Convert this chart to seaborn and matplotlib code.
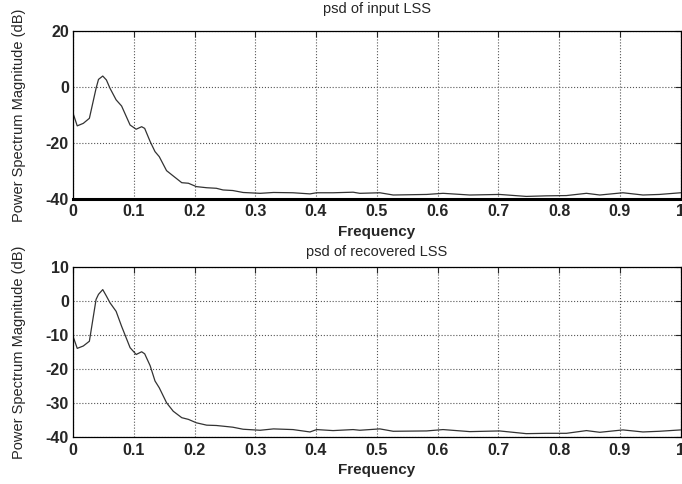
import numpy as np
import pandas as pd
import seaborn as sns
import matplotlib
matplotlib.use("Agg")
import matplotlib.pyplot as plt

# normalised frequency and psd (dB)
freq = [0.0, 0.007, 0.017, 0.027, 0.038, 0.042, 0.049, 0.055, 0.061, 0.071,
        0.080, 0.094, 0.104, 0.113, 0.118, 0.127, 0.135, 0.142, 0.154, 0.165,
        0.179, 0.190, 0.203, 0.220, 0.236, 0.247, 0.263, 0.280, 0.308, 0.330,
        0.362, 0.390, 0.401, 0.428, 0.461, 0.472, 0.505, 0.527, 0.582, 0.609,
        0.653, 0.702, 0.746, 0.779, 0.812, 0.845, 0.867, 0.905, 0.938, 0.965,
        1.0]
psd_input = [-9.3, -13.9, -13.0, -11.2, -0.5, 2.7, 3.9, 2.5, -0.5, -4.6,
             -6.8, -13.6, -15.1, -14.2, -14.8, -19.5, -23.1, -24.9, -29.9, -31.8,
             -34.2, -34.4, -35.6, -36.0, -36.2, -36.8, -37.0, -37.7, -38.0, -37.7,
             -37.8, -38.2, -37.8, -37.8, -37.6, -38.0, -37.8, -38.6, -38.4, -38.0,
             -38.6, -38.4, -39.1, -38.9, -38.8, -38.0, -38.6, -37.8, -38.6, -38.4,
             -37.8]
psd_recovered = [-10.3, -13.9, -13.2, -11.8, 0.5, 2.0, 3.4, 1.5, -0.5, -3.0,
                 -7.4, -13.7, -15.7, -14.9, -15.5, -19.0, -23.5, -25.5, -29.9, -32.4,
                 -34.3, -34.8, -35.8, -36.5, -36.6, -36.8, -37.1, -37.7, -38.0, -37.6,
                 -37.8, -38.5, -37.8, -38.1, -37.8, -38.0, -37.6, -38.3, -38.2, -37.8,
                 -38.4, -38.2, -39.0, -38.9, -38.9, -38.1, -38.6, -37.9, -38.5, -38.3,
                 -37.9]

xticks = [0, 0.1, 0.2, 0.3, 0.4, 0.5, 0.6, 0.7, 0.8, 0.9, 1]
xticklabels = ["0", "0.1", "0.2", "0.3", "0.4", "0.5", "0.6", "0.7", "0.8", "0.9", "1"]

sns.set_style("white")
plt.rcParams["font.family"] = ["Liberation Sans", "DejaVu Sans"]
plt.rcParams["axes.unicode_minus"] = False

df = pd.DataFrame({"freq": freq, "input": psd_input, "recovered": psd_recovered})

fig = plt.figure(figsize=(6.82, 4.84), dpi=100)
ax1 = fig.add_axes([0.107, 0.589, 0.891, 0.347])
ax2 = fig.add_axes([0.107, 0.097, 0.891, 0.351])


def style(ax, ylim, yticks, title, tpad):
    ax.set_xlim(0, 1)
    ax.set_ylim(*ylim)
    ax.set_xticks(xticks)
    ax.set_xticklabels(xticklabels)
    ax.set_yticks(yticks)
    ax.grid(True, color="#555555", linestyle=":", linewidth=0.8)
    ax.tick_params(direction="in", length=4, top=True, right=True,
                   labelsize=11.5, width=0.8)
    ax.tick_params(axis="x", pad=4)
    ax.tick_params(axis="y", pad=3)
    for lab in ax.get_xticklabels() + ax.get_yticklabels():
        lab.set_fontweight("bold")
    for sp in ax.spines.values():
        sp.set_color("black")
        sp.set_linewidth(0.9)
    ax.set_title(title, fontsize=10.5, pad=tpad)
    ax.set_xlabel("Frequency", fontsize=11, fontweight="bold", labelpad=4)
    ax.set_ylabel("Power Spectrum Magnitude (dB)", fontsize=10.5, labelpad=14)


sns.lineplot(data=df, x="freq", y="input", ax=ax1, color="#333333", linewidth=0.9)
style(ax1, (-40, 20), [-40, -20, 0, 20], "psd of input LSS", 13)
ax1.spines["bottom"].set_linewidth(2.2)

sns.lineplot(data=df, x="freq", y="recovered", ax=ax2, color="#333333", linewidth=0.9)
style(ax2, (-40, 10), [-40, -30, -20, -10, 0, 10], "psd of recovered LSS", 8)

fig.savefig("out.png", dpi=100)
